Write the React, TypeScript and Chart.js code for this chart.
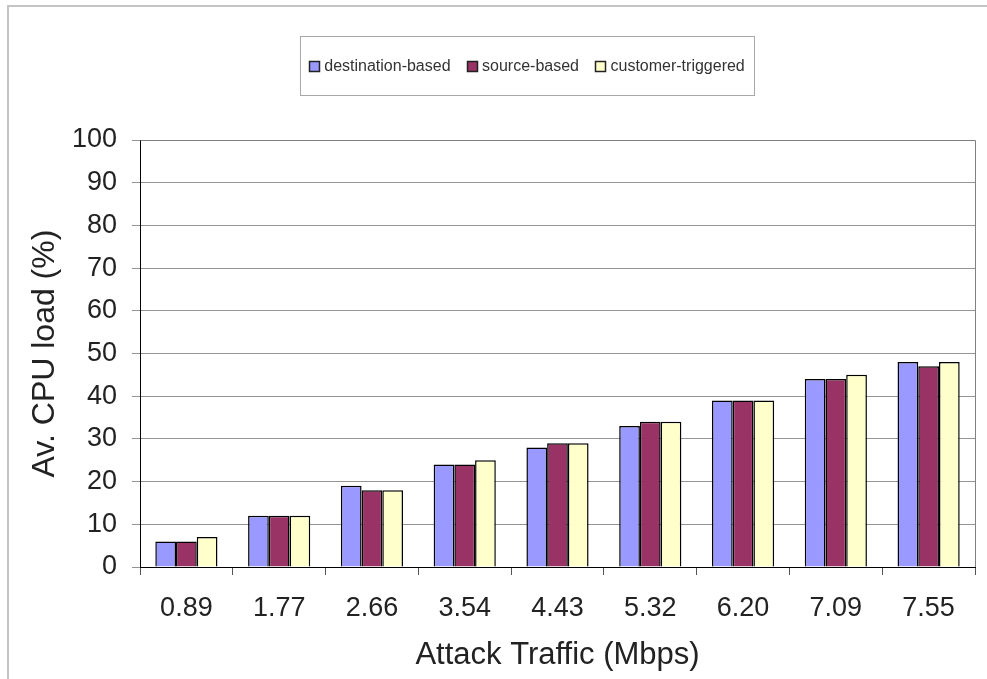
import React, { useEffect, useRef } from "react";
import { Chart, registerables } from "chart.js";

Chart.register(...registerables);

const categories = ["0.89", "1.77", "2.66", "3.54", "4.43", "5.32", "6.20", "7.09", "7.55"];
const destinationBased = [6, 12, 19, 24, 28, 33, 39, 44, 48];
const sourceBased = [6, 12, 18, 24, 29, 34, 39, 44, 47];
const customerTriggered = [7, 12, 18, 25, 29, 34, 39, 45, 48];
const seriesNames = ["destination-based", "source-based", "customer-triggered"];
const seriesColors = ["#9999FF", "#993366", "#FFFFCC"];
const yMin = 0;
const yMax = 100;
const yStep = 10;
const xTitle = "Attack Traffic (Mbps)";
const yTitle = "Av. CPU load (%)";

const FONT = '"Liberation Sans", Arial, sans-serif';

const decorPlugin = {
  id: "decor",
  beforeDraw(chart: any) {
    const { ctx, width, height } = chart;
    ctx.save();
    ctx.fillStyle = "#ffffff";
    ctx.fillRect(0, 0, width, height);
    ctx.strokeStyle = "#c4c4c4";
    ctx.lineWidth = 2;
    ctx.beginPath();
    ctx.moveTo(8, height);
    ctx.lineTo(8, 6);
    ctx.lineTo(width, 6);
    ctx.stroke();
    ctx.restore();
  },
  afterDraw(chart: any) {
    const { ctx, chartArea } = chart;
    ctx.save();
    // plot area right/top border
    ctx.strokeStyle = "#808080";
    ctx.lineWidth = 1;
    ctx.beginPath();
    ctx.moveTo(Math.round(chartArea.left) + 0.5, Math.round(chartArea.top) + 0.5);
    ctx.lineTo(Math.round(chartArea.right) + 0.5, Math.round(chartArea.top) + 0.5);
    ctx.lineTo(Math.round(chartArea.right) + 0.5, Math.round(chartArea.bottom));
    ctx.stroke();

    // legend box
    const bx = 300, by = 36, bw = 454, bh = 59;
    ctx.strokeStyle = "#a8a8a8";
    ctx.strokeRect(bx + 0.5, by + 0.5, bw, bh);

    ctx.font = "16px " + FONT;
    ctx.textBaseline = "middle";
    ctx.textAlign = "left";
    const ds = chart.data.datasets;
    const marker = 11, gapT = 4, gapI = 16.5;
    let total = 0;
    const widths = ds.map((d: any) => ctx.measureText(d.label).width);
    widths.forEach((w: number, i: number) => {
      total += marker + gapT + w + (i > 0 ? gapI : 0);
    });
    let x = bx + bw / 2 - total / 2;
    const cy = 66;
    ds.forEach((d: any, i: number) => {
      ctx.fillStyle = d.backgroundColor;
      ctx.fillRect(Math.round(x), cy - 5, marker, marker);
      ctx.strokeStyle = "#222";
      ctx.lineWidth = 1.5;
      ctx.strokeRect(Math.round(x) + 0.5, cy - 5 + 0.5, marker - 1, marker - 1);
      ctx.fillStyle = "#333";
      ctx.fillText(d.label, x + marker + gapT, cy + 1);
      x += marker + gapT + widths[i] + gapI;
    });
    ctx.restore();
  },
};

export default function App() {
  const ref = useRef<HTMLCanvasElement | null>(null);

  useEffect(() => {
    if (!ref.current) return;
    const chart = new Chart(ref.current, {
      type: "bar",
      data: {
        labels: categories,
        datasets: [
          { label: seriesNames[0], data: destinationBased, backgroundColor: seriesColors[0] },
          { label: seriesNames[1], data: sourceBased, backgroundColor: seriesColors[1] },
          { label: seriesNames[2], data: customerTriggered, backgroundColor: seriesColors[2] },
        ].map((d) => ({
          ...d,
          borderColor: "#000000",
          borderWidth: 1.5,
          categoryPercentage: 0.67,
          barPercentage: 1.0,
        })),
      },
      options: {
        animation: false,
        responsive: false,
        maintainAspectRatio: false,
        layout: { padding: { left: 0, right: 12, top: 140, bottom: 0 } },
        plugins: {
          legend: { display: false },
          tooltip: { enabled: false },
          title: { display: false },
        },
        scales: {
          x: {
            grid: {
              display: true,
              drawOnChartArea: false,
              drawTicks: true,
              tickLength: 8,
              offset: true,
              color: "#555555",
            },
            border: { display: true, color: "#000000", width: 1 },
            ticks: {
              padding: 17,
              color: "#222222",
              font: { size: 27, family: FONT },
              maxRotation: 0,
            },
            title: {
              display: true,
              text: xTitle,
              color: "#222222",
              font: { size: 31, family: FONT },
              padding: { top: 0, bottom: 5 },
            },
            afterFit: (s: any) => {
              s.height = 112;
            },
          },
          y: {
            min: yMin,
            max: yMax,
            grid: {
              color: "#949494",
              tickLength: 8,
              drawTicks: true,
            },
            border: { display: true, color: "#000000", width: 1 },
            ticks: {
              stepSize: yStep,
              padding: 15,
              color: "#222222",
              font: { size: 27, family: FONT },
            },
            title: {
              display: true,
              text: yTitle,
              color: "#222222",
              font: { size: 32, family: FONT },
              padding: { top: 26, bottom: 0 },
            },
            afterFit: (s: any) => {
              s.width = 140;
            },
          },
        },
      },
      plugins: [decorPlugin],
    });
    return () => chart.destroy();
  }, []);

  return (
    <div style={{ position: "fixed", left: 0, top: 0, width: 987, height: 679, background: "#fff" }}>
      <canvas ref={ref} width={987} height={679} style={{ display: "block", width: 987, height: 679 }} />
    </div>
  );
}
